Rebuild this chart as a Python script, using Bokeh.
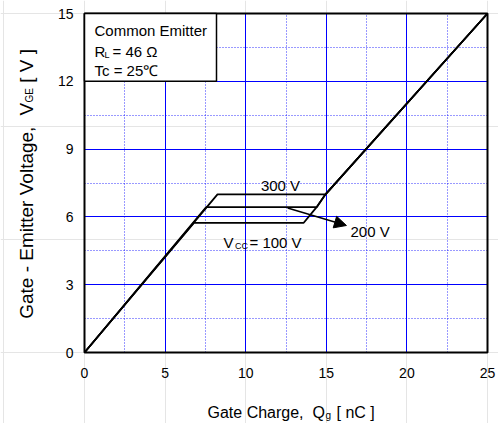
import math
from bokeh.plotting import figure
from bokeh.models import (Label, Arrow, NormalHead, BoxAnnotation, FixedTicker,
                          Range1d, Grid)
from bokeh.embed import file_html
from bokeh.resources import INLINE

# ---- data ----
q_100 = [0, 6.8, 13.6, 14.4, 14.95, 25]
v_100 = [0, 5.74, 5.74, 6.43, 7.0, 15]
q_200 = [0, 7.55, 14.4, 14.95, 25]
v_200 = [0, 6.43, 6.43, 7.0, 15]
q_300 = [0, 8.25, 14.95, 25]
v_300 = [0, 7.0, 7.0, 15]

x_ticks = [0, 5, 10, 15, 20, 25]
x_minor = [2.5, 7.5, 12.5, 17.5, 22.5]
y_ticks = [0, 3, 6, 9, 12, 15]
y_minor = [1.5, 4.5, 7.5, 10.5, 13.5]
x_tick_labels = [str(t) for t in x_ticks]
y_tick_labels = [str(t) for t in y_ticks]

arrow_q = [12.6, 16.25]
arrow_v = [6.39, 5.62]

FONT = "Liberation Sans"

W, H = 498, 423
# plot box geometry (page px)
FL, FR, FT, FB = 84, 487, 13, 352
XMIN, XMAX, YMIN, YMAX = 0, 25, 0, 15


def qx(px):
    return XMIN + (px - FL) / (FR - FL) * (XMAX - XMIN)


def vy(py):
    return YMIN + (FB - py) / (FB - FT) * (YMAX - YMIN)


p = figure(width=W, height=H,
           x_range=Range1d(qx(0), qx(W)), y_range=Range1d(vy(H), vy(0)),
           x_axis_location=None, y_axis_location=None,
           output_backend="svg", toolbar_location=None, min_border=0)
p.background_fill_color = "white"
p.border_fill_color = "white"
p.outline_line_color = None

xg = Grid(dimension=0, ticker=FixedTicker(ticks=x_ticks, minor_ticks=x_minor),
          bounds=(XMIN, XMAX), cross_bounds=(YMIN, YMAX))
yg = Grid(dimension=1, ticker=FixedTicker(ticks=y_ticks, minor_ticks=y_minor),
          bounds=(YMIN, YMAX), cross_bounds=(XMIN, XMAX))
for g in (xg, yg):
    g.grid_line_color = "#0000ff"
    g.grid_line_width = 1
    g.minor_grid_line_color = "#0000ff"
    g.minor_grid_line_alpha = 0.8
    g.minor_grid_line_dash = "1 2"
    p.add_layout(g)

for qs, vs in ((q_100, v_100), (q_200, v_200), (q_300, v_300)):
    p.line(qs, vs, line_color="black", line_width=1.8)

p.add_layout(Arrow(end=NormalHead(size=12, fill_color="black", line_color="black"),
                   x_start=arrow_q[0], y_start=arrow_v[0],
                   x_end=arrow_q[1], y_end=arrow_v[1],
                   line_color="black", line_width=1.5))

# plot box border
p.add_layout(BoxAnnotation(left=XMIN, right=XMAX, bottom=YMIN, top=YMAX,
                           fill_alpha=0.0, line_color="black", line_alpha=1.0,
                           line_width=2))

# condition box
p.add_layout(BoxAnnotation(left=XMIN, right=qx(216), bottom=12, top=YMAX,
                           fill_color="white", fill_alpha=1.0,
                           line_color="black", line_alpha=1.0, line_width=1.5))


def lab(x, y, text, size="15px", align="left", baseline="alphabetic", angle=0.0):
    p.add_layout(Label(x=x, y=y, text=text, text_font=FONT, text_font_size=size,
                       text_align=align, text_baseline=baseline, angle=angle,
                       text_color="black"))


# tick labels
for t, s in zip(x_ticks, x_tick_labels):
    lab(t, vy(372), s, size="14px", align="center", baseline="middle")
for t, s in zip(y_ticks, y_tick_labels):
    lab(qx(73), t, s, size="14px", align="right", baseline="middle")

# box texts
lab(qx(94), vy(30), "Common Emitter")
lab(qx(94), vy(51), "R")
lab(qx(104), vy(54), "L", size="9px")
lab(qx(112), vy(51), "= 46 \u03a9")
lab(qx(94), vy(70), "Tc = 25\u2103")

# curve labels
lab(qx(280), vy(185), "300 V", align="center", baseline="middle")
lab(qx(350), vy(231), "200 V", align="left", baseline="middle")
lab(qx(223), vy(242), "V")
lab(qx(234.5), vy(245), "CC", size="9px")
lab(qx(249), vy(242), "= 100 V")

# x-axis title
lab(qx(207), vy(412), "Gate Charge,", size="16px")
lab(qx(312), vy(412), "Q", size="16px")
lab(qx(325), vy(415), "g", size="10px")
lab(qx(336), vy(412), "[ nC ]", size="16px")

# y-axis title (rotated, reading upward)
A = math.pi / 2
lab(qx(26), vy(318.3), "Gate - Emitter Voltage,", size="19px", angle=A)
lab(qx(26), vy(115.1), "V", size="19px", angle=A)
lab(qx(28.5), vy(102.0), "GE", size="10px", angle=A)
lab(qx(26), vy(82.2), "[ V ]", size="19px", angle=A)

open("out.html", "w").write(file_html(p, INLINE))
